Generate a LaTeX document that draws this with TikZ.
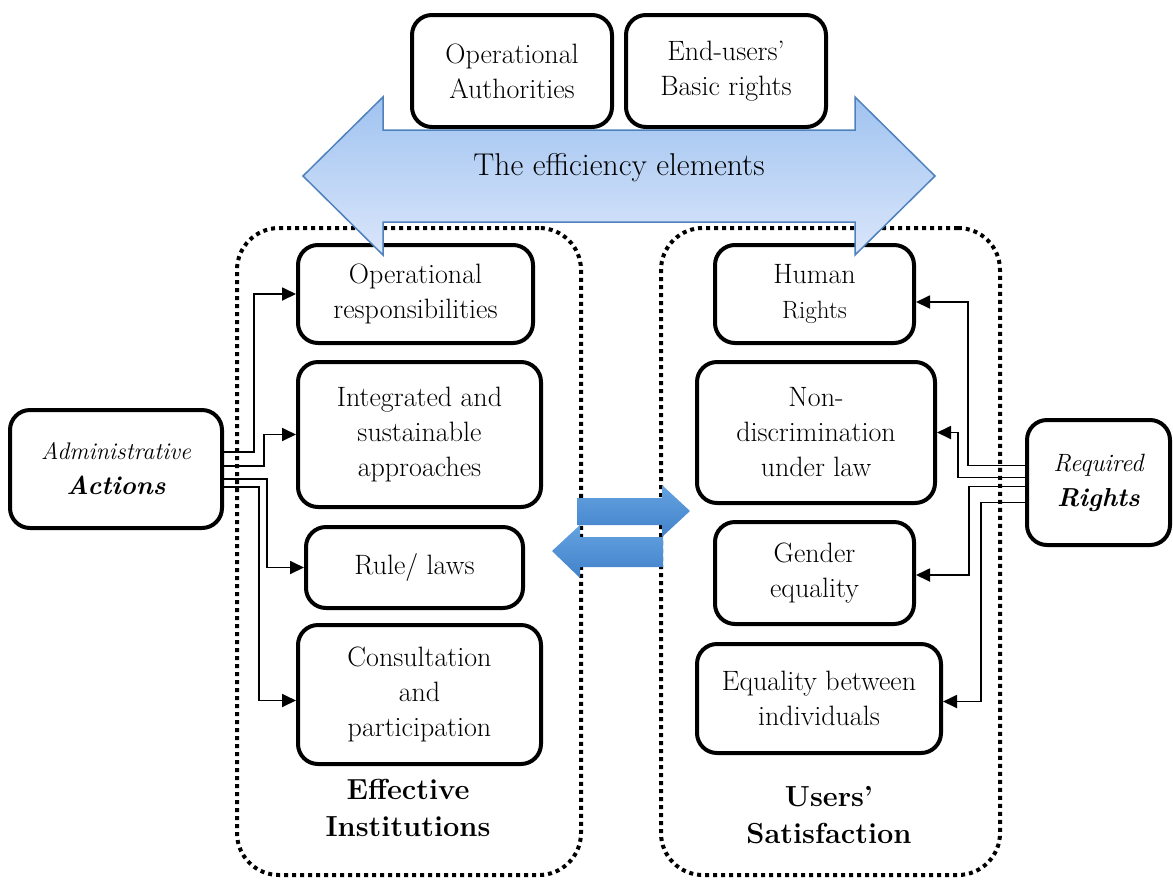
\documentclass[tikz,border=0pt]{standalone}
\usetikzlibrary{arrows.meta}
\definecolor{bigedge}{RGB}{79,129,189}
\definecolor{bigtop}{RGB}{160,195,240}
\definecolor{bigbot}{RGB}{218,230,251}
\definecolor{smtop}{RGB}{100,162,224}
\definecolor{smbot}{RGB}{66,130,202}
\begin{document}
\begin{tikzpicture}[x=1pt,y=-1pt,
  box/.style={draw, line width=4pt, rounded corners=20pt, align=center, inner sep=0pt,
              font=\fontsize{28}{35}\selectfont},
  container/.style={draw, line width=4pt, dash pattern=on 4pt off 4pt, rounded corners=42pt, inner sep=0pt},
  conn/.style={line width=1.8pt, -{Triangle[length=14pt,width=13pt]}},
  title/.style={align=center, font=\bfseries\fontsize{29}{37}\selectfont}]
\useasboundingbox (0,0) rectangle (1173,879);

% dotted containers
\node[container, minimum width=344pt, minimum height=647pt] (lc) at (409,551.5) {};
\node[container, minimum width=339pt, minimum height=647pt] (rc) at (830.5,551.5) {};

% top boxes
\node[box, minimum width=200pt, minimum height=112pt] (oa) at (512,71) {Operational\\Authorities};
\node[box, minimum width=200pt, minimum height=112pt] (eu) at (726,71) {End-users’\\Basic rights};

% left boxes
\node[box, minimum width=235pt, minimum height=98pt]  (opr)  at (415.5,294)   {Operational\\responsibilities};
\node[box, minimum width=243pt, minimum height=145pt] (int)  at (419.5,434.5) {Integrated and\\sustainable\\approaches};
\node[box, minimum width=217pt, minimum height=81pt]  (rule) at (414.5,567.5) {Rule/ laws};
\node[box, minimum width=243pt, minimum height=139pt] (cons) at (419.5,694.5) {Consultation\\and\\participation};

% right boxes
\node[box, minimum width=199pt, minimum height=98pt]  (hr) at (814.5,294)   {Human\\{\fontsize{25}{30}\selectfont Rights}};
\node[box, minimum width=238pt, minimum height=141pt] (nd) at (816,432.5)   {Non-\\discrimination\\under law};
\node[box, minimum width=199pt, minimum height=102pt] (ge) at (814.5,573)   {Gender\\equality};
\node[box, minimum width=244pt, minimum height=109pt] (eq) at (819,698.5)   {Equality between\\individuals};

% side boxes
\node[box, minimum width=212pt, minimum height=118pt] (adm) at (116,469)
  {{\itshape\fontsize{24}{34}\selectfont Administrative}\\{\bfseries\itshape\fontsize{26}{34}\selectfont Actions}};
\node[box, minimum width=143pt, minimum height=125pt] (rr) at (1098.5,482.5)
  {{\itshape\fontsize{25}{34}\selectfont Required}\\{\bfseries\itshape\fontsize{26}{34}\selectfont Rights}};

% titles
\node[title] (ei) at (408,808) {Effective\\Institutions};
\node[title] (us) at (829,815) {Users’\\Satisfaction};

% connectors left
\draw[conn] ([yshift=17pt]adm.east) -- ++(30,0) |- (opr.west);
\draw[conn] ([yshift=3pt]adm.east) -- ++(40,0) |- (int.west);
\draw[conn] ([yshift=-10pt]adm.east) -- ++(43,0) |- (rule.west);
\draw[conn] ([yshift=-18pt]adm.east) -- ++(35,0) |- ([yshift=-6pt]cons.west);

% connectors right
\draw[conn] ([yshift=17pt]rr.west) -- ++(-57,0) |- ([yshift=-8pt]hr.east);
\draw[conn] ([yshift=5pt]rr.west) -- ++(-67,0) |- (nd.east);
\draw[conn] ([yshift=-4pt]rr.west) -- ++(-56,0) |- ([yshift=-2pt]ge.east);
\draw[conn] ([yshift=-20pt]rr.west) -- ++(-44,0) |- ([yshift=-3pt]eq.east);

% big double arrow
\shade[top color=bigtop, bottom color=bigbot, draw=bigedge, line width=1.5pt]
  (303,176) -- (383,97) -- (383,130) -- (855,130) -- (855,97) -- (935,176)
  -- (855,255) -- (855,222) -- (383,222) -- (383,255) -- cycle;
\node[font=\fontsize{31.5}{36}\selectfont] (eff) at (619,168) {The efficiency elements};

% small exchange arrows
\shade[top color=smtop, bottom color=smbot]
  (577,498) -- (662,498) -- (662,485) -- (690,511) -- (662,537) -- (662,525) -- (577,525) -- cycle;
\shade[top color=smtop, bottom color=smbot]
  (663,537) -- (580,537) -- (580,525) -- (552,551) -- (580,578) -- (580,567) -- (663,567) -- cycle;
\end{tikzpicture}
\end{document}
